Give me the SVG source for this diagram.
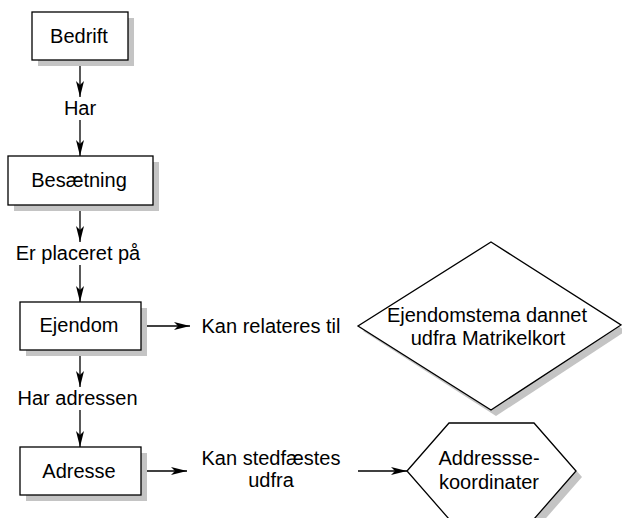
<svg xmlns="http://www.w3.org/2000/svg" width="622" height="518" viewBox="0 0 622 518">
<style>
.box{fill:#fff;stroke:#000;stroke-width:1.3}
.shadow{fill:#c4c4c4;stroke:none}
.t{font-family:"Liberation Sans",Arial,sans-serif;font-size:20px;fill:#000;text-anchor:middle}
.c{stroke:#000;stroke-width:1.3;fill:none;marker-end:url(#ah)}
</style>
<defs>
<marker id="ah" markerUnits="userSpaceOnUse" markerWidth="16" markerHeight="8" refX="16" refY="4" orient="auto">
<path d="M0,0 L16,4 L0,8 L4,4 Z" fill="#000"/>
</marker>
</defs>
<rect width="622" height="518" fill="#fff"/>
<g id="connectors">
<line class="c" x1="80" y1="60" x2="80" y2="97"/>
<line class="c" x1="80" y1="120" x2="80" y2="156"/>
<line class="c" x1="80" y1="205" x2="80" y2="242"/>
<line class="c" x1="80" y1="265" x2="80" y2="302"/>
<line class="c" x1="80" y1="350" x2="80" y2="387"/>
<line class="c" x1="80" y1="410" x2="80" y2="447"/>
<line class="c" x1="141" y1="326" x2="190" y2="326"/>
<line class="c" x1="141" y1="471" x2="187" y2="471"/>
<line class="c" x1="358" y1="471" x2="407" y2="471"/>
<text class="t" x="80" y="115">Har</text>
<text class="t" x="78" y="260">Er placeret på</text>
<text class="t" x="77.5" y="405">Har adressen</text>
<text class="t" x="271" y="333">Kan relateres til</text>
<text class="t" x="271" y="465">Kan stedfæstes</text>
<text class="t" x="271" y="487">udfra</text>
</g>
<g id="bedrift">
<rect class="shadow" x="38" y="18" width="96" height="48"/>
<rect class="box" x="32" y="12" width="96" height="48"/>
<text class="t" x="79" y="43">Bedrift</text>
</g>
<g id="besaetning">
<rect class="shadow" x="14" y="162" width="145" height="49"/>
<rect class="box" x="8" y="156" width="145" height="49"/>
<text class="t" x="79" y="187">Besætning</text>
</g>
<g id="ejendom">
<rect class="shadow" x="26" y="308" width="121" height="48"/>
<rect class="box" x="20" y="302" width="121" height="48"/>
<text class="t" x="79" y="332">Ejendom</text>
</g>
<g id="adresse">
<rect class="shadow" x="26" y="453" width="121" height="48"/>
<rect class="box" x="20" y="447" width="121" height="48"/>
<text class="t" x="79" y="478">Adresse</text>
</g>
<g id="ejendomstema">
<polygon class="shadow" points="496,247 626,331 496,416 363,331"/>
<polygon class="box" points="491,242 621,325 491,410 358,326"/>
<text class="t" x="487" y="322">Ejendomstema dannet</text>
<text class="t" x="488" y="345">udfra Matrikelkort</text>
</g>
<g id="addressekoordinater">
<polygon class="shadow" points="412,477 455,429 540,429 582,477 540,525 455,525"/>
<polygon class="box" points="407,471 449,423 534,423 576,471 534,519 449,519"/>
<text class="t" x="489" y="465">Addressse-</text>
<text class="t" x="489" y="489">koordinater</text>
</g>
</svg>
